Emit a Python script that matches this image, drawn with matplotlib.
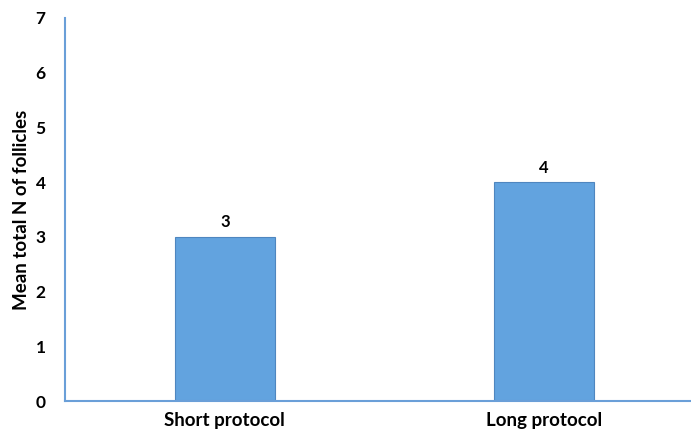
import matplotlib.pyplot as plt

categories = ['Short protocol', 'Long protocol']
values = [3, 4]
yticks = [0, 1, 2, 3, 4, 5, 6, 7]

plt.rcParams['font.family'] = ['Lato', 'DejaVu Sans']

fig = plt.figure(figsize=(6.91, 4.34), dpi=100)
ax = fig.add_axes([65 / 691, 33 / 434, 626 / 691, 383 / 434])

x = range(len(categories))
bars = ax.bar(x, values, width=0.3125, color='#62A3DF', edgecolor='#4F86BF', linewidth=0.8)

for xi, v in zip(x, values):
    ax.text(xi, v + 0.12, str(v), ha='center', va='bottom', fontsize=12, fontweight='bold')

ax.set_xlim(-0.5, (691 - 224) / 320)
ax.set_ylim(0, 7)
ax.set_yticks(yticks)
ax.set_xticks(list(x))
ax.set_xticklabels(categories, fontsize=13.5, fontweight='bold')
ax.set_yticklabels([str(t) for t in yticks], fontsize=12.5, fontweight='bold')
ax.tick_params(length=0)
ax.tick_params(axis='y', pad=14)
ax.tick_params(axis='x', pad=8)

ax.set_ylabel('Mean total N of follicles', fontsize=13.5, fontweight='bold', labelpad=4)

for side in ['top', 'right']:
    ax.spines[side].set_visible(False)
for side in ['left', 'bottom']:
    ax.spines[side].set_color('#6A9FD8')
    ax.spines[side].set_linewidth(1.5)

plt.savefig('out.png')
